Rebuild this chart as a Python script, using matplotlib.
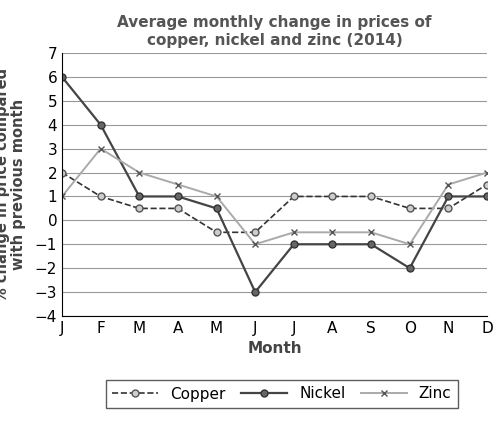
import matplotlib
matplotlib.use("Agg")
import matplotlib.pyplot as plt

months = ["J","F","M","A","M","J","J","A","S","O","N","D"]
copper = [2, 1, 0.5, 0.5, -0.5, -0.5, 1, 1, 1, 0.5, 0.5, 1.5]
nickel = [6, 4, 1, 1, 0.5, -3, -1, -1, -1, -2, 1, 1]
zinc = [1, 3, 2, 1.5, 1, -1, -0.5, -0.5, -0.5, -1, 1.5, 2]

fig = plt.figure(figsize=(5.04, 4.26), dpi=100)
ax = fig.add_axes([62/504, 1-316/426, (487-62)/504, (316-53)/426])
x = list(range(len(months)))
ax.plot(x, copper, ls="--", color="#333333", lw=1.2, marker="o", ms=5,
        mfc="#cccccc", mec="#555555", label="Copper")
ax.plot(x, nickel, ls="-", color="#444444", lw=1.6, marker="o", ms=5,
        mfc="#666666", mec="#333333", label="Nickel")
ax.plot(x, zinc, ls="-", color="#aaaaaa", lw=1.4, marker="x", ms=5,
        mec="#555555", label="Zinc")
ax.set_xlim(0, 11)
ax.set_ylim(-4, 7)
ax.set_yticks(range(-4, 8))
ax.set_xticks(x)
ax.set_xticklabels(months, fontsize=11)
ax.tick_params(axis="y", labelsize=11, length=0)
ax.tick_params(axis="x", length=0)
ax.grid(axis="y", color="#999999", lw=0.8)
ax.set_axisbelow(True)
for s in ["top", "right"]:
    ax.spines[s].set_visible(False)
ax.set_xlabel("Month", fontsize=11, fontweight="bold", color="#444444")
ax.set_ylabel("% change in price compared\nwith previous month", fontsize=10.5,
              fontweight="bold", color="#444444", linespacing=1.1)
ax.yaxis.set_label_coords(-0.085, 0.5)
ax.set_title("Average monthly change in prices of\ncopper, nickel and zinc (2014)",
             fontsize=11, fontweight="bold", color="#555555", pad=6)
fig.legend(loc="center", bbox_to_anchor=(282/504, 1-394/426), ncol=3,
           fontsize=11, frameon=True, edgecolor="#333333", fancybox=False,
           handlelength=3, columnspacing=1.0)
fig.savefig("out.png", dpi=100)
